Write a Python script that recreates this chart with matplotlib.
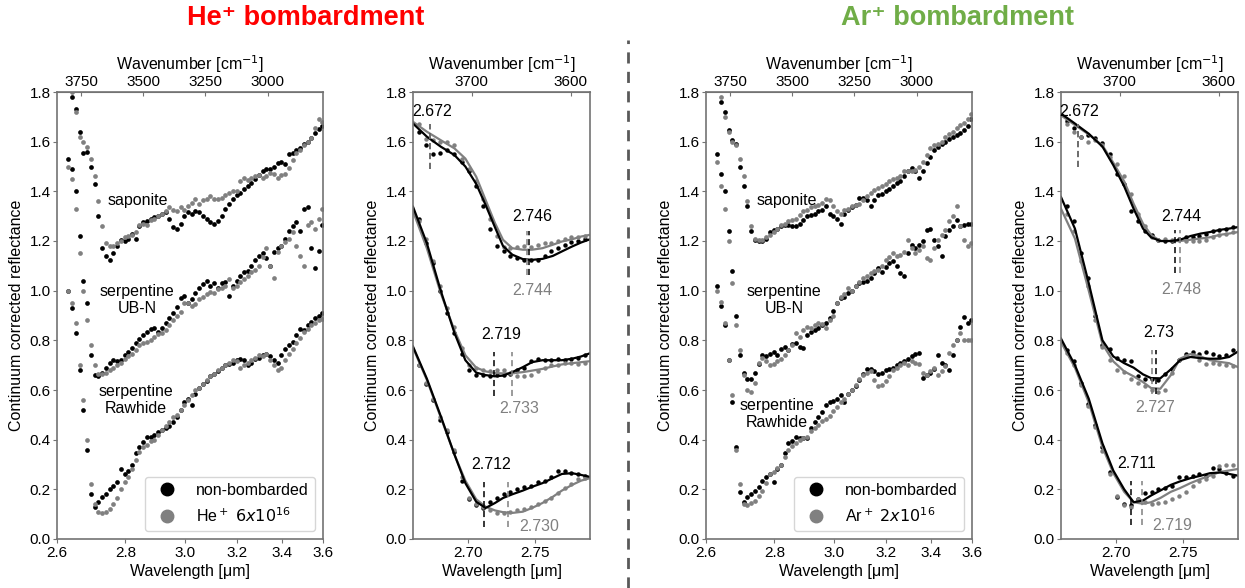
import numpy as np
import matplotlib.pyplot as plt
from matplotlib.lines import Line2D

plt.rcParams['font.family'] = ['Liberation Sans', 'DejaVu Sans']
plt.rcParams['font.size'] = 11
plt.rcParams['axes.edgecolor'] = '0.45'
plt.rcParams['xtick.color'] = '0.45'
plt.rcParams['ytick.color'] = '0.45'
plt.rcParams['xtick.labelcolor'] = 'black'
plt.rcParams['ytick.labelcolor'] = 'black'
plt.rcParams['xtick.major.pad'] = 2
plt.rcParams['ytick.major.pad'] = 1.5
plt.rcParams['xtick.major.size'] = 3
plt.rcParams['ytick.major.size'] = 3

GREY = '#808080'

# full range spectra, one sample every 15 cm-1
wn = np.arange(3800, 2779, -15)

he_sap_ref = [1.86, 1.78, 1.73, 1.64, 1.555, 1.56, 1.50, 1.43, 1.30, 1.17, 1.14, 1.125, 1.15, 1.18, 1.205, 1.20, 1.21,
              1.23, 1.21, 1.26, 1.275, 1.28, 1.29, 1.295, 1.30, 1.31, 1.315, 1.29, 1.255, 1.25, 1.27, 1.30, 1.315, 1.31,
              1.32, 1.315, 1.30, 1.29, 1.275, 1.27, 1.28, 1.30, 1.33, 1.35, 1.37, 1.385, 1.395, 1.41, 1.42, 1.435,
              1.45, 1.465, 1.48, 1.49, 1.49, 1.50, 1.515, 1.52, 1.51, 1.55, 1.555, 1.565, 1.575, 1.59, 1.60, 1.615,
              1.635, 1.65, 1.665]
he_sap_irr = [1.88, 1.80, 1.72, 1.62, 1.60, 1.58, 1.53, 1.46, 1.36, 1.26, 1.19, 1.18, 1.18, 1.19, 1.20, 1.215, 1.22,
              1.225, 1.235, 1.265, 1.27, 1.265, 1.285, 1.29, 1.30, 1.31, 1.32, 1.335, 1.325, 1.32, 1.335, 1.325, 1.34,
              1.355, 1.37, 1.35, 1.365, 1.37, 1.38, 1.37, 1.37, 1.375, 1.385, 1.395, 1.40, 1.40, 1.44, 1.455, 1.445,
              1.455, 1.46, 1.465, 1.455, 1.46, 1.475, 1.47, 1.455, 1.465, 1.47, 1.495, 1.525, 1.555, 1.565, 1.585,
              1.60, 1.615, 1.655, 1.69, 1.68]
he_ubn_ref = [1.53, 1.49, 1.40, 1.22, 1.04, 0.95, 0.74, 0.66, 0.655, 0.67, 0.69, 0.71, 0.72, 0.715, 0.72, 0.74, 0.755,
              0.77, 0.79, 0.805, 0.82, 0.835, 0.845, 0.85, 0.835, 0.85, 0.87, 0.89, 0.91, 0.935, 0.97, 0.98, 0.95,
              0.965, 0.99, 1.01, 1.025, 1.04, 1.02, 1.03, 1.01, 1.03, 1.035, 0.98, 1.02, 1.04, 1.06, 1.075, 1.08, 1.10,
              1.125, 1.14, 1.15, 1.13, 1.10, 1.155, 1.17, 1.18, 1.21, 1.24, 1.26, 1.275, 1.24, 1.33, 1.335, 1.17,
              1.09, 1.16, 1.265]
he_ubn_irr = [1.50, 1.45, 1.33, 1.15, 1.00, 0.88, 0.78, 0.70, 0.665, 0.665, 0.67, 0.68, 0.69, 0.70, 0.71, 0.725, 0.735,
              0.745, 0.76, 0.78, 0.79, 0.795, 0.80, 0.815, 0.825, 0.83, 0.84, 0.86, 0.88, 0.90, 0.915, 0.95, 0.95,
              0.94, 0.945, 0.965, 0.975, 0.985, 0.995, 0.99, 1.005, 1.01, 1.02, 1.045, 1.01, 1.02, 1.035, 1.045, 1.06,
              1.075, 1.085, 1.10, 1.135, 1.17, 1.10, 1.05, 1.155, 1.18, 1.195, 1.21, 1.235, 1.18, 1.14, 1.10, 1.265,
              1.275, 1.25, 1.29, 1.33]
he_raw_ref = [1.00, 0.93, 0.83, 0.68, 0.52, 0.36, 0.18, 0.13, 0.15, 0.17, 0.18, 0.20, 0.215, 0.23, 0.28, 0.26, 0.275,
              0.30, 0.345, 0.37, 0.39, 0.41, 0.41, 0.42, 0.43, 0.44, 0.445, 0.455, 0.47, 0.49, 0.52, 0.55, 0.565, 0.54,
              0.585, 0.61, 0.625, 0.635, 0.655, 0.665, 0.675, 0.69, 0.70, 0.705, 0.71, 0.72, 0.725, 0.72, 0.70, 0.71,
              0.725, 0.73, 0.74, 0.745, 0.735, 0.72, 0.71, 0.74, 0.765, 0.78, 0.795, 0.82, 0.845, 0.84, 0.86, 0.875,
              0.89, 0.90, 0.91]
he_raw_irr = [1.00, 0.95, 0.87, 0.70, 0.56, 0.40, 0.22, 0.14, 0.11, 0.105, 0.11, 0.12, 0.14, 0.165, 0.20, 0.23, 0.25,
              0.28, 0.32, 0.35, 0.37, 0.38, 0.395, 0.40, 0.42, 0.44, 0.455, 0.47, 0.49, 0.50, 0.52, 0.54, 0.56, 0.58,
              0.60, 0.61, 0.625, 0.64, 0.655, 0.665, 0.68, 0.69, 0.70, 0.71, 0.72, 0.715, 0.69, 0.70, 0.71, 0.72, 0.73,
              0.74, 0.735, 0.745, 0.72, 0.70, 0.68, 0.69, 0.72, 0.745, 0.765, 0.79, 0.81, 0.835, 0.845, 0.86, 0.87,
              0.88, 0.885]

ar_sap_ref = [1.84, 1.76, 1.72, 1.645, 1.605, 1.59, 1.50, 1.42, 1.34, 1.24, 1.205, 1.20, 1.20, 1.21, 1.235, 1.245,
              1.25, 1.26, 1.265, 1.265, 1.26, 1.26, 1.27, 1.285, 1.30, 1.305, 1.31, 1.32, 1.325, 1.34, 1.31, 1.30,
              1.29, 1.27, 1.31, 1.325, 1.335, 1.345, 1.375, 1.375, 1.365, 1.34, 1.365, 1.385, 1.39, 1.40, 1.41, 1.42,
              1.435, 1.44, 1.46, 1.48, 1.495, 1.48, 1.455, 1.48, 1.515, 1.54, 1.565, 1.58, 1.59, 1.60, 1.61, 1.62,
              1.625, 1.633, 1.645, 1.665, 1.69]
ar_sap_irr = [1.86, 1.78, 1.70, 1.64, 1.60, 1.585, 1.53, 1.46, 1.36, 1.26, 1.21, 1.205, 1.205, 1.215, 1.225, 1.235,
              1.25, 1.265, 1.27, 1.28, 1.285, 1.29, 1.305, 1.32, 1.325, 1.335, 1.34, 1.345, 1.355, 1.37, 1.365, 1.34,
              1.32, 1.31, 1.325, 1.33, 1.34, 1.345, 1.35, 1.365, 1.38, 1.395, 1.405, 1.415, 1.42, 1.43, 1.44, 1.45,
              1.455, 1.46, 1.48, 1.48, 1.48, 1.485, 1.50, 1.52, 1.545, 1.575, 1.586, 1.59, 1.60, 1.62, 1.63, 1.64,
              1.655, 1.666, 1.675, 1.69, 1.71]
ar_ubn_ref = [1.55, 1.47, 1.40, 1.24, 1.08, 0.90, 0.74, 0.67, 0.645, 0.645, 0.67, 0.705, 0.74, 0.735, 0.745, 0.755,
              0.74, 0.765, 0.775, 0.76, 0.785, 0.79, 0.775, 0.77, 0.82, 0.835, 0.84, 0.85, 0.86, 0.87, 0.89, 0.92,
              0.95, 0.97, 0.975, 0.99, 1.0, 1.02, 1.03, 1.035, 1.04, 1.05, 1.07, 1.09, 1.075, 1.095, 1.11, 1.12, 1.10,
              1.07, 1.06, 1.15, 1.185, 1.17, 1.185, 1.20, 1.245, 1.25, 1.205, 1.18, 1.14, 1.22, 1.245, 1.26, 1.285,
              1.26, 1.265, 1.27, 1.27]
ar_ubn_irr = [1.52, 1.42, 1.33, 1.20, 1.03, 0.86, 0.76, 0.66, 0.60, 0.59, 0.63, 0.71, 0.73, 0.715, 0.70, 0.705, 0.715,
              0.725, 0.74, 0.76, 0.78, 0.83, 0.815, 0.84, 0.855, 0.85, 0.86, 0.87, 0.865, 0.85, 0.88, 0.90, 0.95,
              0.975, 0.985, 1.01, 1.0, 1.02, 1.035, 1.05, 1.06, 1.07, 1.08, 1.085, 1.10, 1.125, 1.135, 1.15, 1.14,
              1.145, 1.155, 1.205, 1.17, 1.15, 1.165, 1.18, 1.13, 1.125, 1.17, 1.205, 1.225, 1.245, 1.28, 1.30, 1.34,
              1.26, 1.205, 1.18, 1.19]
ar_raw_ref = [1.02, 0.94, 0.86, 0.72, 0.55, 0.37, 0.19, 0.15, 0.17, 0.18, 0.195, 0.21, 0.235, 0.25, 0.26, 0.23, 0.28,
              0.30, 0.345, 0.385, 0.395, 0.41, 0.405, 0.405, 0.405, 0.445, 0.47, 0.49, 0.51, 0.54, 0.55, 0.555, 0.565,
              0.58, 0.55, 0.585, 0.60, 0.615, 0.64, 0.665, 0.685, 0.685, 0.675, 0.665, 0.67, 0.68, 0.685, 0.69, 0.70,
              0.71, 0.715, 0.725, 0.735, 0.745, 0.75, 0.65, 0.66, 0.67, 0.685, 0.74, 0.71, 0.70, 0.68, 0.74, 0.80,
              0.855, 0.895, 0.87, 0.88]
ar_raw_irr = [1.00, 0.955, 0.87, 0.72, 0.58, 0.36, 0.22, 0.14, 0.135, 0.145, 0.155, 0.175, 0.195, 0.225, 0.26, 0.27,
              0.285, 0.30, 0.33, 0.36, 0.375, 0.385, 0.40, 0.405, 0.41, 0.435, 0.445, 0.46, 0.475, 0.485, 0.495,
              0.515, 0.53, 0.55, 0.565, 0.585, 0.60, 0.62, 0.645, 0.66, 0.67, 0.675, 0.64, 0.615, 0.62, 0.635, 0.655,
              0.68, 0.69, 0.70, 0.71, 0.70, 0.715, 0.71, 0.705, 0.67, 0.66, 0.675, 0.69, 0.66, 0.675, 0.695, 0.75,
              0.78, 0.80, 0.83, 0.80, 0.80, 0.80]

# zoom on the 2.7 um band: measured points and fitted curves
lam_z = np.linspace(2.664, 2.7888, 25)
lam_fit = np.array([2.660, 2.670, 2.680, 2.690, 2.698, 2.706, 2.713, 2.720, 2.726, 2.733, 2.741, 2.748, 2.756,
                    2.764, 2.771, 2.779, 2.786, 2.793])

hez_sap_ref = [1.64, 1.585, 1.55, 1.555, 1.565, 1.55, 1.52, 1.48, 1.42, 1.34, 1.25, 1.18, 1.16, 1.14, 1.13, 1.125,
               1.125, 1.125, 1.14, 1.16, 1.17, 1.185, 1.195, 1.20, 1.21]
hez_sap_irr = [1.67, 1.61, 1.605, 1.60, 1.60, 1.585, 1.53, 1.49, 1.44, 1.37, 1.29, 1.22, 1.175, 1.17, 1.175, 1.18,
               1.175, 1.185, 1.19, 1.19, 1.20, 1.21, 1.215, 1.215, 1.22]
hez_ubn_ref = [1.29, 1.19, 1.11, 1.0, 0.91, 0.83, 0.745, 0.68, 0.66, 0.66, 0.655, 0.66, 0.66, 0.665, 0.68, 0.69,
               0.715, 0.725, 0.72, 0.72, 0.725, 0.72, 0.725, 0.73, 0.74]
hez_ubn_irr = [1.28, 1.21, 1.12, 1.02, 0.93, 0.855, 0.77, 0.70, 0.69, 0.68, 0.675, 0.68, 0.68, 0.67, 0.655, 0.655,
               0.66, 0.675, 0.69, 0.70, 0.70, 0.71, 0.71, 0.705, 0.71]
hez_raw_ref = [0.70, 0.625, 0.56, 0.48, 0.43, 0.35, 0.235, 0.16, 0.135, 0.125, 0.15, 0.165, 0.18, 0.19, 0.20, 0.21,
               0.215, 0.23, 0.235, 0.25, 0.275, 0.275, 0.265, 0.26, 0.255]
hez_raw_irr = [0.70, 0.63, 0.565, 0.49, 0.44, 0.36, 0.25, 0.165, 0.14, 0.13, 0.115, 0.105, 0.105, 0.11, 0.115, 0.12,
               0.13, 0.14, 0.155, 0.165, 0.185, 0.205, 0.22, 0.24, 0.245]

hef_sap_ref = [1.673, 1.62, 1.58, 1.546, 1.50, 1.43, 1.345, 1.255, 1.18, 1.145, 1.127, 1.124, 1.128, 1.14, 1.158,
               1.178, 1.194, 1.207]
hef_sap_irr = [1.68, 1.64, 1.606, 1.573, 1.532, 1.459, 1.365, 1.272, 1.205, 1.171, 1.165, 1.165, 1.171, 1.185, 1.198,
               1.207, 1.218, 1.225]
hef_ubn_ref = [1.338, 1.19, 1.0, 0.83, 0.72, 0.67, 0.66, 0.655, 0.658, 0.672, 0.692, 0.712, 0.72, 0.72, 0.72, 0.726,
               0.735, 0.748]
hef_ubn_irr = [1.32, 1.17, 0.99, 0.84, 0.74, 0.69, 0.675, 0.668, 0.667, 0.667, 0.672, 0.678, 0.685, 0.695, 0.703,
               0.708, 0.712, 0.716]
hef_raw_ref = [0.775, 0.645, 0.495, 0.34, 0.225, 0.15, 0.125, 0.145, 0.165, 0.18, 0.195, 0.21, 0.225, 0.245, 0.262,
               0.265, 0.258, 0.25]
hef_raw_irr = [0.77, 0.64, 0.49, 0.34, 0.235, 0.16, 0.13, 0.115, 0.108, 0.105, 0.11, 0.125, 0.145, 0.17, 0.195,
               0.218, 0.235, 0.245]

arz_sap_ref = [1.685, 1.655, 1.62, 1.625, 1.615, 1.595, 1.55, 1.47, 1.43, 1.32, 1.28, 1.24, 1.225, 1.205, 1.20, 1.20,
               1.21, 1.215, 1.215, 1.22, 1.23, 1.24, 1.245, 1.25, 1.255]
arz_sap_irr = [1.67, 1.64, 1.62, 1.60, 1.605, 1.585, 1.54, 1.51, 1.46, 1.39, 1.31, 1.26, 1.215, 1.205, 1.21, 1.205,
               1.205, 1.20, 1.20, 1.20, 1.205, 1.215, 1.225, 1.23, 1.235]
arz_ubn_ref = [1.34, 1.28, 1.15, 1.05, 0.90, 0.78, 0.765, 0.73, 0.72, 0.715, 0.655, 0.645, 0.645, 0.64, 0.665, 0.685,
               0.72, 0.745, 0.755, 0.745, 0.755, 0.745, 0.735, 0.74, 0.76]
arz_ubn_irr = [1.31, 1.24, 1.12, 1.02, 0.88, 0.775, 0.72, 0.68, 0.672, 0.645, 0.63, 0.615, 0.60, 0.59, 0.60, 0.67,
               0.72, 0.735, 0.74, 0.72, 0.706, 0.71, 0.705, 0.70, 0.695]
arz_raw_ref = [0.76, 0.715, 0.63, 0.545, 0.46, 0.37, 0.27, 0.17, 0.14, 0.135, 0.16, 0.185, 0.19, 0.20, 0.205, 0.215,
               0.25, 0.25, 0.255, 0.26, 0.255, 0.285, 0.28, 0.265, 0.255]
arz_raw_irr = [0.75, 0.70, 0.62, 0.535, 0.45, 0.355, 0.26, 0.175, 0.135, 0.13, 0.16, 0.15, 0.14, 0.145, 0.15, 0.16,
               0.175, 0.19, 0.215, 0.235, 0.24, 0.255, 0.295, 0.30, 0.30]

arf_sap_ref = [1.713, 1.673, 1.632, 1.58, 1.505, 1.42, 1.33, 1.25, 1.215, 1.20, 1.20, 1.205, 1.22, 1.23, 1.236, 1.245,
               1.25, 1.256]
arf_sap_irr = [1.706, 1.667, 1.629, 1.585, 1.515, 1.44, 1.35, 1.27, 1.225, 1.20, 1.20, 1.20, 1.205, 1.21, 1.215,
               1.225, 1.23, 1.236]
arf_ubn_ref = [1.377, 1.25, 1.03, 0.80, 0.735, 0.708, 0.69, 0.663, 0.648, 0.647, 0.683, 0.72, 0.733, 0.728, 0.726,
               0.726, 0.733, 0.755]
arf_ubn_irr = [1.33, 1.21, 1.00, 0.785, 0.715, 0.675, 0.655, 0.632, 0.608, 0.605, 0.66, 0.726, 0.745, 0.735, 0.72,
               0.713, 0.708, 0.692]
arf_raw_ref = [0.807, 0.70, 0.565, 0.385, 0.275, 0.20, 0.148, 0.155, 0.175, 0.195, 0.218, 0.232, 0.245, 0.255, 0.265,
               0.268, 0.262, 0.255]
arf_raw_irr = [0.793, 0.69, 0.55, 0.37, 0.265, 0.19, 0.148, 0.142, 0.148, 0.165, 0.19, 0.205, 0.225, 0.242, 0.255,
               0.27, 0.276, 0.282]

wide_ticks = [2.6, 2.8, 3.0, 3.2, 3.4, 3.6]
zoom_ticks = [2.70, 2.75]

fig = plt.figure(figsize=(12.45, 5.88), dpi=100)
BOT, HGT = 49 / 588, 447 / 588


def style(ax, lam_lim, lam_ticks, fmt, wn_ticks):
    ax.set_xlim(1e4 / lam_lim[0], 1e4 / lam_lim[1])
    ax.set_ylim(0, 1.8)
    ax.set_yticks(np.arange(0, 1.81, 0.2))
    ax.set_yticklabels([f'{v:.1f}' for v in np.arange(0, 1.81, 0.2)])
    ax.set_xticks([1e4 / l for l in lam_ticks])
    ax.set_xticklabels([fmt.format(l) for l in lam_ticks])
    ax.set_xlabel('Wavelength [μm]', fontsize=11.5, labelpad=3)
    ax.set_ylabel('Continuum corrected reflectance', fontsize=11.5)
    top = ax.secondary_xaxis('top')
    top.set_xticks(wn_ticks)
    top.tick_params(direction='in')
    top.set_xlabel(r'Wavenumber [cm$^{-1}$]', fontsize=11.5, labelpad=4)
    for s in ax.spines.values():
        s.set_linewidth(1.2)


def wide_panel(left, spectra, names, dose):
    ax = fig.add_axes([left, BOT, 266 / 1245, HGT])
    for ref, irr in spectra:
        ax.plot(wn, ref, 'o', ms=3.4, mew=0, color='black')
        ax.plot(wn, irr, 'o', ms=3.4, mew=0, color=GREY)
    for x, y, s in names:
        ax.text(x, y, s, ha='center', va='center', fontsize=11.5, linespacing=1.15)
    style(ax, (2.6, 3.6), wide_ticks, '{:.1f}', [3750, 3500, 3250, 3000])
    handles = [Line2D([], [], ls='none', marker='o', ms=9, color='black'),
               Line2D([], [], ls='none', marker='o', ms=9, color=GREY)]
    ax.legend(handles, ['non-bombarded', dose], loc='lower right', fontsize=11.5)
    return ax


def zoom_panel(left, pts, fits, marks):
    ax = fig.add_axes([left, BOT, 177 / 1245, HGT])
    for ref, irr in pts:
        ax.plot(1e4 / lam_z, ref, 'o', ms=3.2, mew=0, color='black')
        ax.plot(1e4 / lam_z, irr, 'o', ms=3.2, mew=0, color=GREY)
    for ref, irr in fits:
        ax.plot(1e4 / lam_fit, irr, '-', lw=1.6, color=GREY)
        ax.plot(1e4 / lam_fit, ref, '-', lw=1.6, color='black')
    for lam, y0, y1, col in marks[0]:
        ax.plot([1e4 / lam] * 2, [y0, y1], ls=(0, (4, 2.5)), lw=1.1, color=col)
    for lam, y, s, col in marks[1]:
        ax.text(1e4 / lam, y, s, ha='center', va='center', fontsize=11.5, color=col)
    style(ax, (2.66, 2.793), zoom_ticks, '{:.2f}', [3700, 3600])
    return ax


wide_panel(57 / 1245, [(he_sap_ref, he_sap_irr), (he_ubn_ref, he_ubn_irr), (he_raw_ref, he_raw_irr)],
           [(3521, 1.365, 'saponite'), (3525, 0.963, 'serpentine\nUB-N'), (3529, 0.56, 'serpentine\nRawhide')],
           r'He$^+$ $6x10^{16}$')

zoom_panel(413 / 1245,
           [(hez_sap_ref, hez_sap_irr), (hez_ubn_ref, hez_ubn_irr), (hez_raw_ref, hez_raw_irr)],
           [(hef_sap_ref, hef_sap_irr), (hef_ubn_ref, hef_ubn_irr), (hef_raw_ref, hef_raw_irr)],
           ([(2.672, 1.49, 1.67, 'black'), (2.6722, 1.49, 1.67, GREY),
             (2.746, 1.065, 1.24, 'black'), (2.744, 1.065, 1.24, GREY),
             (2.719, 0.575, 0.755, 'black'), (2.733, 0.575, 0.755, GREY),
             (2.712, 0.05, 0.23, 'black'), (2.730, 0.05, 0.23, GREY)],
            [(2.6734, 1.72, '2.672', 'black'), (2.7485, 1.30, '2.746', 'black'), (2.7485, 1.0, '2.744', GREY),
             (2.7245, 0.825, '2.719', 'black'), (2.738, 0.525, '2.733', GREY),
             (2.717, 0.30, '2.712', 'black'), (2.7535, 0.05, '2.730', GREY)]))

wide_panel(706 / 1245, [(ar_sap_ref, ar_sap_irr), (ar_ubn_ref, ar_ubn_irr), (ar_raw_ref, ar_raw_irr)],
           [(3522, 1.365, 'saponite'), (3533, 0.963, 'serpentine\nUB-N'), (3562, 0.503, 'serpentine\nRawhide')],
           r'Ar$^+$ $2x10^{16}$')

zoom_panel(1061 / 1245,
           [(arz_sap_ref, arz_sap_irr), (arz_ubn_ref, arz_ubn_irr), (arz_raw_ref, arz_raw_irr)],
           [(arf_sap_ref, arf_sap_irr), (arf_ubn_ref, arf_ubn_irr), (arf_raw_ref, arf_raw_irr)],
           ([(2.672, 1.50, 1.67, 'black'), (2.6722, 1.50, 1.67, GREY),
             (2.744, 1.07, 1.245, 'black'), (2.748, 1.07, 1.245, GREY),
             (2.730, 0.585, 0.76, 'black'), (2.727, 0.585, 0.76, GREY),
             (2.711, 0.055, 0.235, 'black'), (2.719, 0.055, 0.235, GREY)],
            [(2.673, 1.72, '2.672', 'black'), (2.749, 1.30, '2.744', 'black'), (2.749, 1.005, '2.748', GREY),
             (2.7319, 0.83, '2.73', 'black'), (2.7294, 0.53, '2.727', GREY),
             (2.7156, 0.305, '2.711', 'black'), (2.742, 0.055, '2.719', GREY)]))

title_font = ['Liberation Sans Narrow', 'Liberation Sans', 'DejaVu Sans']
fig.text(306 / 1245, 1 - 18 / 588, 'He⁺ bombardment', color='#FF0000', fontsize=19.5, fontweight='bold',
         family=title_font, ha='center', va='center')
fig.text(958 / 1245, 1 - 18 / 588, 'Ar⁺ bombardment', color='#70AD47', fontsize=19.5, fontweight='bold',
         family=title_font, ha='center', va='center')
fig.add_artist(Line2D([628 / 1245] * 2, [0, 548 / 588], transform=fig.transFigure,
                      ls=(0, (4, 3)), lw=2, color='0.35'))

fig.savefig('out.png', dpi=100)
